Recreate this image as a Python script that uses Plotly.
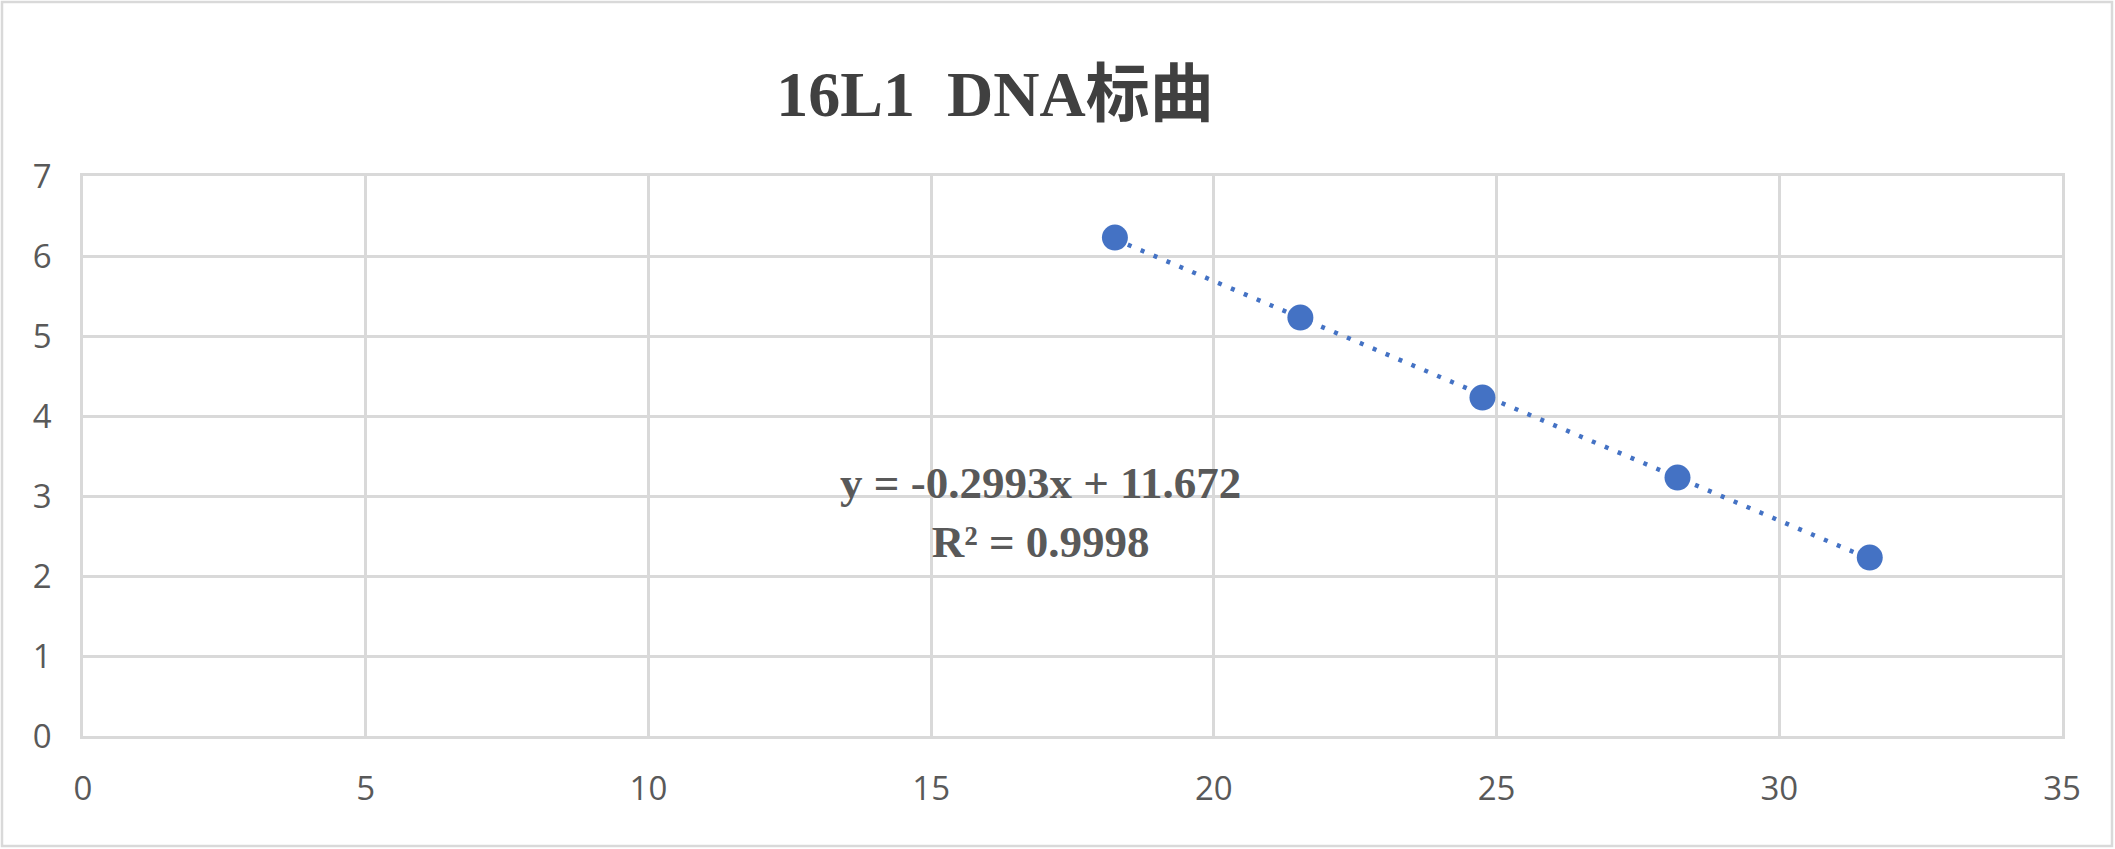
import plotly.graph_objects as go

# ---- data ----
ct_values = [18.25, 21.53, 24.75, 28.2, 31.6]
log_copies = [6.23, 5.23, 4.23, 3.23, 2.23]
trend_slope = -0.2993
trend_intercept = 11.672
r_squared = 0.9998
title_text = "16L1  DNA标曲"
x_ticks = [0, 5, 10, 15, 20, 25, 30, 35]
y_ticks = [0, 1, 2, 3, 4, 5, 6, 7]

W, H = 2115, 849
ml, mr, mt, mb = 83, 53, 176, 113
pw, ph = W - ml - mr, H - mt - mb

grid = "#d9d9d9"
blue = "#4472C4"
label_col = "#595959"

x_lo, x_hi = min(ct_values), max(ct_values)
trend_x = [x_lo, x_hi]
trend_y = [trend_slope * v + trend_intercept for v in trend_x]

fig = go.Figure()
fig.add_trace(go.Scatter(
    x=trend_x, y=trend_y, mode="lines",
    line=dict(color=blue, width=4.5, dash="4px,10px"),
    hoverinfo="skip", showlegend=False,
))
fig.add_trace(go.Scatter(
    x=ct_values, y=log_copies, mode="markers",
    marker=dict(color=blue, size=26, line=dict(width=0)),
    showlegend=False,
))

eq_text = f"y = {trend_slope}x + {trend_intercept}<br>R² = {r_squared}"
fig.add_annotation(
    x=16.94, y=2.8, xref="x", yref="y", text=eq_text, showarrow=False,
    font=dict(family="Liberation Serif, Times New Roman, serif", size=45,
              color=label_col, weight="bold"),
    xanchor="center", yanchor="middle", align="center",
)

# outer chart border
fig.add_shape(
    type="rect", xref="paper", yref="paper",
    x0=(2 - ml) / pw, x1=(W - 3 - ml) / pw,
    y0=-(mb - 3) / ph, y1=(H - mb - 2) / ph,
    line=dict(color=grid, width=2.5), layer="below",
)

axis_font = dict(family="Open Sans, Noto Sans, sans-serif", size=33, color=label_col)

fig.update_layout(
    width=W, height=H,
    margin=dict(l=ml, r=mr, t=mt, b=mb),
    paper_bgcolor="white", plot_bgcolor="white",
    title=dict(
        text=title_text, x=995 / W, xref="container", xanchor="center",
        y=1 - 94 / H, yref="container", yanchor="middle",
        font=dict(family="Liberation Serif, Noto Sans CJK SC, serif", size=64,
                  color="#404040", weight="bold"),
    ),
    xaxis=dict(
        range=[0, 35], tickvals=x_ticks, ticktext=[str(v) for v in x_ticks],
        showgrid=True, gridcolor=grid, gridwidth=2.5,
        zeroline=False, showline=True, linecolor=grid, linewidth=2.5, mirror=True,
        tickfont=axis_font, ticks="", ticklabelstandoff=22,
        fixedrange=True,
    ),
    yaxis=dict(
        range=[0, 7], tickvals=y_ticks, ticktext=[str(v) for v in y_ticks],
        showgrid=True, gridcolor=grid, gridwidth=2.5,
        zeroline=False, showline=True, linecolor=grid, linewidth=2.5, mirror=True,
        tickfont=axis_font, ticks="", ticklabelstandoff=22,
        fixedrange=True,
    ),
    showlegend=False,
)

fig.write_html(
    "out.html",
    config={"displayModeBar": False},
    post_script="document.body.style.margin='0';document.body.style.overflow='hidden';",
)
